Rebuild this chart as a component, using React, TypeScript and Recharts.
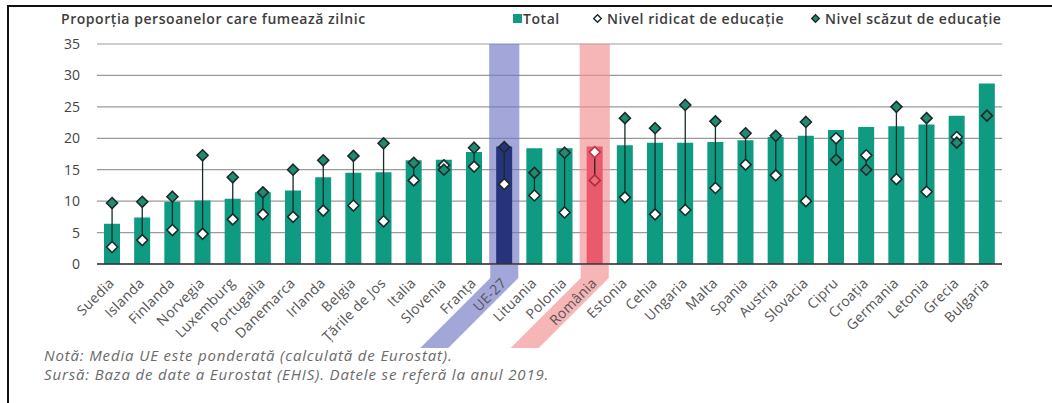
import React from "react";
import {
  ComposedChart,
  Bar,
  Cell,
  Line,
  ErrorBar,
  XAxis,
  YAxis,
  CartesianGrid,
  ReferenceArea,
} from "recharts";

const COUNTRIES = [
  "Suedia", "Islanda", "Finlanda", "Norvegia", "Luxemburg", "Portugalia",
  "Danemarca", "Irlanda", "Belgia", "Țările de Jos", "Italia", "Slovenia",
  "Franța", "UE-27", "Lituania", "Polonia", "România", "Estonia", "Cehia",
  "Ungaria", "Malta", "Spania", "Austria", "Slovacia", "Cipru", "Croația",
  "Germania", "Letonia", "Grecia", "Bulgaria",
];

const TOTAL = [
  6.4, 7.4, 9.9, 10.1, 10.4, 11.4, 11.7, 13.8, 14.5, 14.6, 16.5, 16.6, 17.8,
  18.7, 18.4, 18.4, 18.7, 18.9, 19.3, 19.3, 19.4, 19.7, 20.2, 20.4, 21.3, 21.8,
  21.9, 22.2, 23.6, 28.7,
];

const HIGH_EDU = [
  2.7, 3.8, 5.4, 4.8, 7.1, 7.9, 7.5, 8.5, 9.3, 6.8, 13.3, 15.7, 15.5, 12.7,
  10.9, 8.2, 17.8, 10.6, 7.9, 8.6, 12.1, 15.8, 14.1, 10.0, 20.0, 17.3, 13.5,
  11.5, 20.2, null,
];

const LOW_EDU = [
  9.7, 9.9, 10.7, 17.3, 13.8, 11.4, 15.0, 16.5, 17.2, 19.2, 16.1, 15.0, 18.5,
  18.6, 14.5, 17.7, 13.3, 23.2, 21.6, 25.3, 22.7, 20.8, 20.4, 22.6, 16.6, 15.0,
  25.0, 23.2, 19.3, 23.6,
];

const Y_TICKS = [0, 5, 10, 15, 20, 25, 30, 35];

const TEAL = "#0f9a82";
const EU = "UE-27";
const RO = "România";
// solid colours for the label bands, translucent ones over the plot so the grid shows through
const BAND = { [EU]: "#a3a6d8", [RO]: "#f6b6b8" };
const BAND_PLOT = { [EU]: "#7276c3", [RO]: "#f18f92" };
const FONT = "Open Sans, sans-serif";

const data = COUNTRIES.map((name, i) => {
  const hi = HIGH_EDU[i];
  const lo = LOW_EDU[i];
  // error bar from the low-education marker up/down to the high-education one
  const span = hi == null ? [0, 0] : hi < lo ? [lo - hi, 0] : [0, hi - lo];
  return { name, total: TOTAL[i], high: hi, low: lo, span };
});

const diamond = (cx, cy, r) =>
  `M${cx},${cy - r}L${cx + r},${cy}L${cx},${cy + r}L${cx - r},${cy}Z`;

const HighDot = (props) => {
  const { cx, cy, payload, index } = props;
  if (cx == null || cy == null || payload.high == null) return <g key={`h${index}`} />;
  const stroke = payload.name === RO ? "#c23447" : "#1b2a2a";
  return (
    <path key={`h${index}`} d={diamond(cx, cy, 5.5)} fill="#ffffff" stroke={stroke} strokeWidth={1.6} />
  );
};

const LowDot = (props) => {
  const { cx, cy, payload, index } = props;
  if (cx == null || cy == null) return <g key={`l${index}`} />;
  let fill = "#218a70";
  let stroke = "#1b2a2a";
  if (payload.name === EU) fill = "#27347c";
  if (payload.name === RO) {
    fill = "#ea6f7d";
    stroke = "#b52a3d";
  }
  return <path key={`l${index}`} d={diamond(cx, cy, 5.5)} fill={fill} stroke={stroke} strokeWidth={1.6} />;
};

const CountryTick = ({ x, y, payload }) => {
  const band = BAND[payload.value];
  return (
    <g transform={`translate(${x},${y})`}>
      {band && (
        <polygon points="-14,-7 14,-7 14,6 -56,76 -84,76 -14,6" fill={band} />
      )}
      <text
        transform="translate(3,12) rotate(-45)"
        textAnchor="end"
        fontSize={14}
        letterSpacing={0.3}
        fill="#555"
        fontFamily={FONT}
      >
        {payload.value}
      </text>
    </g>
  );
};

const headText = {
  position: "absolute",
  top: 9,
  fontSize: 14,
  letterSpacing: 0.55,
  fontWeight: 600,
  color: "#3d3d3d",
  fontFamily: FONT,
  whiteSpace: "nowrap",
  lineHeight: "20px",
};

export default function App() {
  return (
    <div style={{ position: "absolute", left: 0, top: 0, width: 1052, height: 403, background: "#fff" }}>
      <div style={{ position: "absolute", left: 7, top: 5, right: 0, height: 2, background: "#111" }} />
      <div style={{ position: "absolute", left: 7, top: 5, bottom: 0, width: 2, background: "#111" }} />

      <div style={{ ...headText, left: 61 }}>Proporția persoanelor care fumează zilnic</div>

      <div style={{ position: "absolute", left: 513, top: 14, width: 9, height: 9, background: TEAL }} />
      <div style={{ ...headText, left: 523 }}>Total</div>
      <svg width={11} height={11} style={{ position: "absolute", left: 592, top: 13 }}>
        <path d={diamond(5.5, 5.5, 3.8)} fill="#fff" stroke="#1b2a2a" strokeWidth={1.4} />
      </svg>
      <div style={{ ...headText, left: 607 }}>Nivel ridicat de educație</div>
      <svg width={11} height={11} style={{ position: "absolute", left: 810, top: 13 }}>
        <path d={diamond(5.5, 5.5, 3.8)} fill="#218a70" stroke="#1b2a2a" strokeWidth={1.4} />
      </svg>
      <div style={{ ...headText, left: 825 }}>Nivel scăzut de educație</div>

      <div style={{ position: "absolute", left: 0, top: 0 }}>
        <ComposedChart
          width={1052}
          height={403}
          data={data}
          margin={{ top: 44, right: 50, left: 57, bottom: 49 }}
        >
          <ReferenceArea x1={EU} x2={EU} y1={0} y2={35} fill={BAND_PLOT[EU]} fillOpacity={0.65} ifOverflow="visible" />
          <ReferenceArea x1={RO} x2={RO} y1={0} y2={35} fill={BAND_PLOT[RO]} fillOpacity={0.65} ifOverflow="visible" />
          <CartesianGrid vertical={false} stroke="#9a9a9a" strokeWidth={1.2} />
          <XAxis
            dataKey="name"
            interval={0}
            tickLine={false}
            axisLine={{ stroke: "#333", strokeWidth: 1.5 }}
            height={90}
            tick={<CountryTick />}
          />
          <YAxis
            domain={[0, 35]}
            ticks={Y_TICKS}
            axisLine={false}
            tickLine={false}
            tickMargin={11}
            width={40}
            tick={{ fontSize: 14, fill: "#444", fontFamily: FONT }}
          />
          <Bar dataKey="total" barSize={16} isAnimationActive={false}>
            {data.map((d) => (
              <Cell key={d.name} fill={d.name === EU ? "#27347c" : d.name === RO ? "#e95a6c" : TEAL} />
            ))}
          </Bar>
          <Line
            dataKey="high"
            stroke="none"
            dot={HighDot}
            activeDot={false}
            isAnimationActive={false}
          />
          <Line
            dataKey="low"
            stroke="none"
            dot={LowDot}
            activeDot={false}
            isAnimationActive={false}
          >
            <ErrorBar dataKey="span" direction="y" width={0} stroke="#1b2a2a" strokeWidth={1.3} />
          </Line>
        </ComposedChart>
      </div>

      <div
        style={{
          position: "absolute",
          left: 44,
          top: 346,
          fontSize: 15,
          letterSpacing: 0.85,
          lineHeight: "19px",
          fontStyle: "italic",
          color: "#6a6a6a",
          fontFamily: FONT,
          whiteSpace: "nowrap",
        }}
      >
        <div>Notă: Media UE este ponderată (calculată de Eurostat).</div>
        <div>Sursă: Baza de date a Eurostat (EHIS). Datele se referă la anul 2019.</div>
      </div>
    </div>
  );
}
